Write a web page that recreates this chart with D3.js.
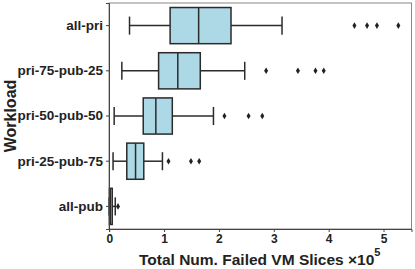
<!DOCTYPE html>
<head>
<meta charset="utf-8">
<title>Failed VM slices</title>
<script src="https://cdn.jsdelivr.net/npm/d3@7"></script>
<style>
body { margin: 0; background: #fff; }
text { font-family: "Liberation Sans", Arial, sans-serif; font-weight: bold; fill: #222; }
</style>
</head>
<body>
<script>
// values in units of 1e5
var workloads  = ["all-pri", "pri-75-pub-25", "pri-50-pub-50", "pri-25-pub-75", "all-pub"];
var whiskerLo  = [0.37, 0.23, 0.09, 0.07, 0.0];
var q1         = [1.11, 0.90, 0.62, 0.32, 0.005];
var median     = [1.63, 1.25, 0.85, 0.48, 0.02];
var q3         = [2.22, 1.66, 1.15, 0.63, 0.055];
var whiskerHi  = [3.15, 2.47, 1.90, 0.97, 0.11];
var outliers   = [[4.47, 4.70, 4.88, 5.27], [2.86, 3.44, 3.76, 3.91], [2.10, 2.54, 2.79], [1.08, 1.49, 1.64], [0.16]];
var xTicks     = [0, 1, 2, 3, 4, 5];

var W = 415, H = 269;
var mLeft = 109, mRight = 411.5, mTop = 3, mBottom = 229;

var svg = d3.select("body").append("svg")
	.attr("width", W)
	.attr("height", H);

var x = d3.scaleLinear().domain([-0.004, 5.51]).range([mLeft, mRight]);
var y = d3.scaleBand().domain(workloads).range([mTop, mBottom]);
var boxH = y.bandwidth() * 0.8;

// frame
svg.append("rect")
	.attr("x", mLeft).attr("y", mTop)
	.attr("width", mRight - mLeft).attr("height", mBottom - mTop)
	.attr("fill", "none").attr("stroke", "#888").attr("stroke-width", 1);

var rows = workloads.map(function(w, i) {
	return {name: w, lo: whiskerLo[i], q1: q1[i], med: median[i], q3: q3[i], hi: whiskerHi[i], out: outliers[i]};
});

var g = svg.selectAll("g.box").data(rows).enter().append("g")
	.attr("class", "box")
	.attr("transform", function(d) { return "translate(0," + (y(d.name) + y.bandwidth() / 2) + ")"; });

var ink = "#2b2b2b";

// whiskers
g.append("line").attr("x1", function(d) { return x(d.lo); }).attr("x2", function(d) { return x(d.q1); })
	.attr("stroke", ink).attr("stroke-width", 1.5);
g.append("line").attr("x1", function(d) { return x(d.q3); }).attr("x2", function(d) { return x(d.hi); })
	.attr("stroke", ink).attr("stroke-width", 1.5);
// caps
g.selectAll("line.cap").data(function(d) { return [d.lo, d.hi]; }).enter().append("line")
	.attr("class", "cap")
	.attr("x1", function(v) { return x(v); }).attr("x2", function(v) { return x(v); })
	.attr("y1", -boxH / 4).attr("y2", boxH / 4)
	.attr("stroke", ink).attr("stroke-width", 1.5);
// box
g.append("rect")
	.attr("x", function(d) { return x(d.q1); })
	.attr("y", -boxH / 2)
	.attr("width", function(d) { return x(d.q3) - x(d.q1); })
	.attr("height", boxH)
	.attr("fill", "#add8e6").attr("stroke", ink).attr("stroke-width", 1.5);
// median
g.append("line")
	.attr("x1", function(d) { return x(d.med); }).attr("x2", function(d) { return x(d.med); })
	.attr("y1", -boxH / 2).attr("y2", boxH / 2)
	.attr("stroke", ink).attr("stroke-width", 1.5);
// outliers (thin diamonds)
g.selectAll("path.out").data(function(d) { return d.out; }).enter().append("path")
	.attr("class", "out")
	.attr("d", function(v) { var cx = x(v); return "M" + cx + ",-3.3L" + (cx + 2) + ",0L" + cx + ",3.3L" + (cx - 2) + ",0Z"; })
	.attr("fill", "#222");

// axes
var xAxis = svg.append("g")
	.attr("transform", "translate(0," + mBottom + ")")
	.call(d3.axisBottom(x).tickValues(xTicks).tickFormat(d3.format("d")).tickSize(3).tickPadding(2));
var yAxis = svg.append("g")
	.attr("transform", "translate(" + mLeft + ",0)")
	.call(d3.axisLeft(y).tickSize(3).tickPadding(3));

[xAxis, yAxis].forEach(function(a) {
	a.select(".domain").attr("stroke", "#444");
	a.selectAll(".tick line").attr("stroke", "#444");
});
xAxis.selectAll("text").style("font-size", "12px").attr("fill", "#222");
yAxis.selectAll("text").style("font-size", "13.5px").attr("fill", "#222");

// titles
svg.append("text")
	.attr("transform", "translate(16," + ((mTop + mBottom) / 2) + ") rotate(-90)")
	.attr("text-anchor", "middle")
	.style("font-size", "16px")
	.text("Workload");

var xl = svg.append("text")
	.attr("x", 139).attr("y", 265)
	.style("font-size", "15.5px")
	.text("Total Num. Failed VM Slices \u00d710");
xl.append("tspan").attr("dy", -9).style("font-size", "11px").text("5");
</script>
</body>
